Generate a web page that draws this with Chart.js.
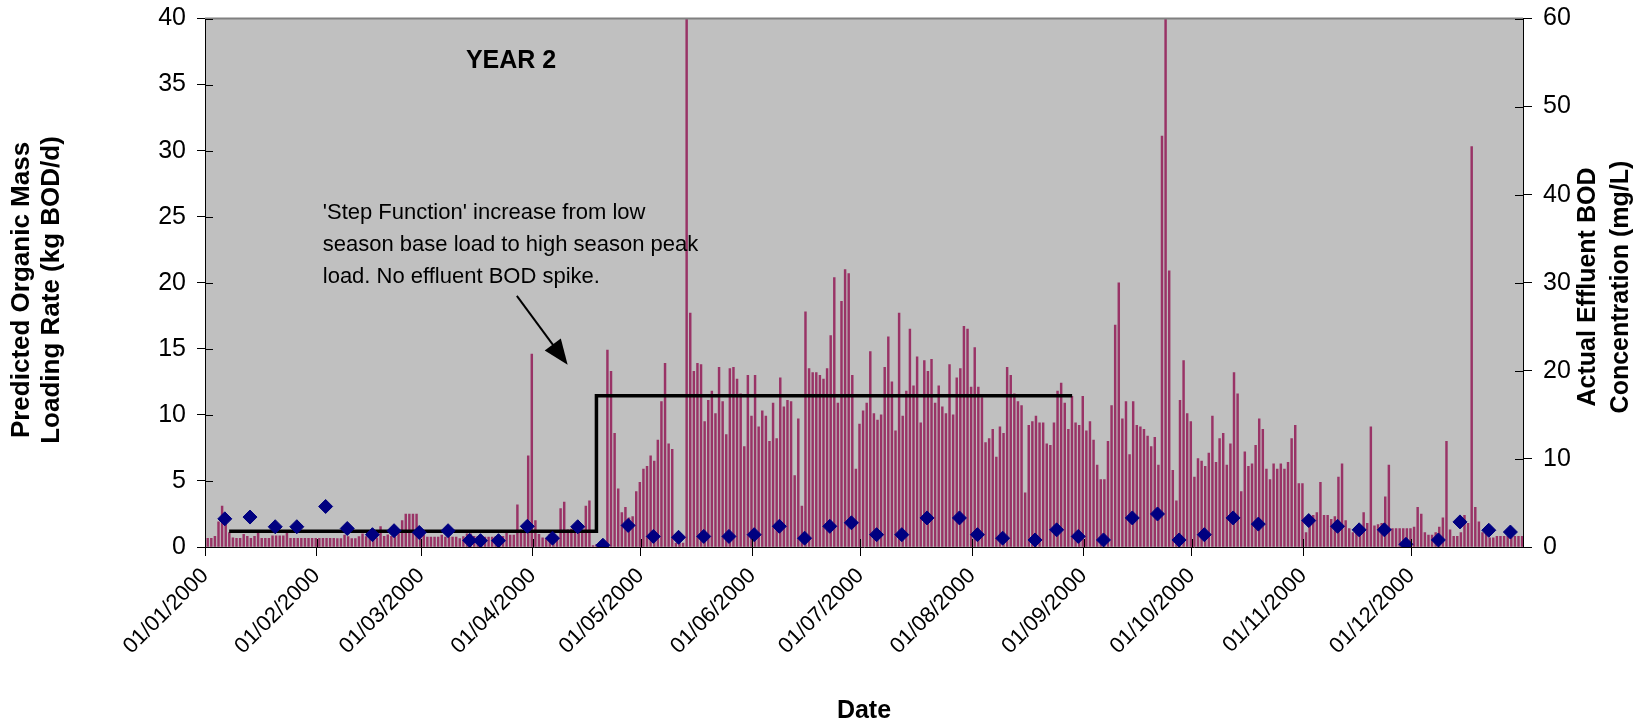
<!DOCTYPE html>
<html>
<head>
<meta charset="utf-8">
<script src="https://cdn.jsdelivr.net/npm/chart.js@4/dist/chart.umd.min.js"></script>
<style>
  html, body { margin: 0; padding: 0; background: #ffffff; }
  #wrap { width: 1651px; height: 727px; position: relative; }
</style>
</head>
<body>
<div id="wrap"><canvas id="chart" width="1651" height="727"></canvas></div>
<script>
// Month boundaries (day-of-year index) and their axis labels
const monthStartDays = [0, 31, 60, 91, 121, 152, 182, 213, 244, 274, 305, 335];
const monthLabels = ['01/01/2000', '01/02/2000', '01/03/2000', '01/04/2000', '01/05/2000', '01/06/2000',
                     '01/07/2000', '01/08/2000', '01/09/2000', '01/10/2000', '01/11/2000', '01/12/2000'];

// Predicted organic mass loading rate, kg BOD/d, one value per day of 2000
const loadingRate = [
  0.65,0.65,0.8,1.9,3.1,2.0,1.1,0.7,0.65,0.65,
  0.95,0.8,0.65,0.8,1.1,0.65,0.65,0.65,0.85,0.85,
  0.85,0.85,1.1,0.65,0.65,0.65,0.65,0.65,0.65,0.65,
  0.65,0.65,0.65,0.65,0.65,0.65,
  0.63,0.63,0.9,0.78,0.63,0.63,0.78,1.0,0.78,0.63,
  0.8,0.7,1.54,0.8,0.93,0.8,0.75,1.05,2.0,2.5,
  2.5,2.5,2.5,1.05,0.9,0.75,0.75,0.75,0.75,0.9,
  0.75,0.75,0.75,0.75,0.63,0.78,1.0,1.0,
  0.8,0.8,0.8,0.75,0.75,0.75,0.8,0.8,0.8,1.05,
  0.9,0.9,3.2,1.3,1.3,6.9,14.6,2.0,0.95,0.7,
  0.65,0.95,0.8,0.8,2.9,3.4,1.3,1.35,1.3,1.3,
  1.3,3.1,3.5,0.1,0.2,0.2,0.2,
  14.9,13.3,8.6,4.4,2.6,3.0,2.2,2.3,4.2,4.9,
  5.9,6.1,6.9,6.5,8.1,11.0,13.9,7.8,7.4,0.3,
  0.3,0.3,45,17.7,13.3,13.9,13.8,9.5,11.1,11.8,
  10.1,13.6,11.0,8.5,13.5,13.6,12.7,11.6,7.6,
  13.0,9.9,13.0,9.1,10.3,9.9,8.0,10.9,8.2,12.8,
  10.6,11.1,11.0,5.4,9.7,3.1,17.8,13.5,13.2,13.2,
  13.0,12.7,13.5,16.0,20.4,10.9,18.6,21.0,20.7,13.0,
  5.9,9.3,10.3,10.9,14.8,10.1,9.6,
  10.0,13.6,15.9,12.5,8.8,17.7,9.9,11.8,16.5,12.2,
  14.4,9.4,14.1,13.3,14.2,10.9,12.2,10.6,10.1,13.8,
  10.0,12.8,13.5,16.7,16.5,12.1,15.1,12.1,11.3,7.9,
  8.2,8.9,6.8,9.1,8.6,13.6,
  13.0,11.6,11.0,10.7,4.1,9.2,9.5,9.9,9.4,9.4,
  7.8,7.7,9.4,11.8,12.4,10.9,8.9,11.4,9.4,9.2,
  11.4,8.8,9.5,8.1,6.2,5.1,5.1,8.0,10.7,16.8,
  20.0,9.7,11.0,7.0,11.0,9.2,9.1,
  8.9,8.4,7.6,8.3,6.2,31.1,45,20.9,5.8,3.5,
  11.1,14.1,10.1,9.5,5.3,6.7,6.5,6.1,7.1,9.9,
  6.4,8.2,8.6,6.2,7.8,13.2,11.6,4.2,7.2,6.1,
  6.3,7.7,9.7,8.9,5.9,5.1,6.3,5.9,
  6.3,5.9,6.4,8.2,9.2,4.8,4.8,1.1,2.3,2.4,
  2.6,4.9,2.4,2.4,2.1,2.3,5.3,6.3,2.0,1.4,
  1.1,1.4,1.6,2.6,1.8,9.1,1.6,1.7,1.8,3.8,
  6.2,1.4,1.4,1.4,1.4,1.4,1.4,1.5,
  3.0,2.5,1.1,0.9,0.9,1.1,1.5,2.2,8.0,1.3,
  0.8,0.8,1.1,2.4,1.8,30.3,3.0,1.9,1.1,1.5,
  0.7,0.7,0.8,0.8,0.8,0.8,0.8,0.8,0.8,0.8
];

// Measured effluent BOD samples: day-of-year index and concentration, mg/L
const sampleDays = [5,12,19,25,33,39,46,52,59,67,73,76,81,89,96,103,110,117,124,131,
                    138,145,152,159,166,173,179,186,193,200,209,214,221,230,236,242,249,257,264,270,
                    277,285,292,306,314,320,327,333,342,348,356,362];
const effluentBOD = [3.2,3.4,2.3,2.3,4.6,2.1,1.4,1.85,1.65,1.85,0.75,0.72,0.72,2.35,1.0,2.3,0.2,2.45,1.2,1.1,
                     1.2,1.2,1.4,2.35,1.0,2.35,2.75,1.4,1.4,3.3,3.3,1.4,1.0,0.8,1.95,1.2,0.8,3.3,3.75,0.8,
                     1.4,3.3,2.6,3.0,2.35,1.95,1.95,0.3,0.8,2.85,1.9,1.7];

// Step function: low-season base load to high-season peak load
const stepDays  = [6.7, 108.7, 108.7, 240.8];
const stepLoads = [1.2, 1.2, 11.45, 11.45];

// One category per day, dd/mm/yyyy
const dayLabels = [];
for (let i = 0; i < loadingRate.length; i++) {
  const d = new Date(Date.UTC(2000, 0, 1 + i));
  const dd = String(d.getUTCDate()).padStart(2, '0');
  const mm = String(d.getUTCMonth() + 1).padStart(2, '0');
  dayLabels.push(dd + '/' + mm + '/' + d.getUTCFullYear());
}

const FONT = '"Liberation Sans", Arial, sans-serif';

// Grey plot area and its top border
const plotArea = {
  id: 'plotArea',
  beforeDraw(chart) {
    const { ctx, chartArea: a } = chart;
    ctx.save();
    ctx.fillStyle = '#c0c0c0';
    ctx.fillRect(a.left, a.top, a.right - a.left, a.bottom - a.top);
    ctx.restore();
  },
  afterDraw(chart) {
    const { ctx, chartArea: a } = chart;
    ctx.save();
    ctx.strokeStyle = '#808080';
    ctx.lineWidth = 2;
    ctx.beginPath();
    ctx.moveTo(a.left, a.top);
    ctx.lineTo(a.right, a.top);
    ctx.stroke();
    ctx.restore();
  }
};

// Tick marks that cross the axis line (inner half)
const crossTicks = {
  id: 'crossTicks',
  afterDraw(chart) {
    const { ctx, chartArea: a, scales } = chart;
    const len = 8;
    ctx.save();
    ctx.strokeStyle = '#000';
    ctx.lineWidth = 1;
    ctx.beginPath();
    scales.y.ticks.forEach(t => {
      const p = Math.round(scales.y.getPixelForValue(t.value)) + 0.5;
      ctx.moveTo(a.left, p); ctx.lineTo(a.left + len, p);
    });
    scales.y1.ticks.forEach(t => {
      const p = Math.round(scales.y1.getPixelForValue(t.value)) + 0.5;
      ctx.moveTo(a.right, p); ctx.lineTo(a.right - len, p);
    });
    scales.x2.ticks.forEach(t => {
      const p = Math.round(scales.x2.getPixelForValue(t.value)) + 0.5;
      ctx.moveTo(p, a.bottom); ctx.lineTo(p, a.bottom - len);
    });
    ctx.stroke();
    ctx.restore();
  }
};

// Titles, year label, note and arrow
const notes = {
  id: 'notes',
  afterDraw(chart) {
    const { ctx, scales: { x2, y } } = chart;
    ctx.save();
    ctx.fillStyle = '#000';

    // left axis title
    ctx.font = 'bold 26px ' + FONT;
    ctx.textAlign = 'center';
    ctx.textBaseline = 'alphabetic';
    ctx.save();
    ctx.translate(29, 290); ctx.rotate(-Math.PI / 2);
    ctx.fillText('Predicted Organic Mass', 0, 0);
    ctx.restore();
    ctx.save();
    ctx.translate(59, 290); ctx.rotate(-Math.PI / 2);
    ctx.fillText('Loading Rate (kg BOD/d)', 0, 0);
    ctx.restore();

    // right axis title
    ctx.font = 'bold 25px ' + FONT;
    ctx.save();
    ctx.translate(1595, 287); ctx.rotate(-Math.PI / 2);
    ctx.fillText('Actual Effluent BOD', 0, 0);
    ctx.restore();
    ctx.save();
    ctx.translate(1628, 287); ctx.rotate(-Math.PI / 2);
    ctx.fillText('Concentration (mg/L)', 0, 0);
    ctx.restore();

    // bottom axis title
    ctx.textBaseline = 'middle';
    ctx.fillText('Date', (chart.chartArea.left + chart.chartArea.right) / 2, 711);

    // year label
    ctx.fillText('YEAR 2', x2.getPixelForValue(85.0), y.getPixelForValue(36.8));

    // note text
    ctx.font = '22px ' + FONT;
    ctx.textAlign = 'left';
    const nx = x2.getPixelForValue(32.7);
    const ny = y.getPixelForValue(25.25);
    ['\'Step Function\' increase from low',
     'season base load to high season peak',
     'load. No effluent BOD spike.'].forEach((t, i) => ctx.fillText(t, nx, ny + i * 32));

    // arrow
    const ax = x2.getPixelForValue(86.6), ay = y.getPixelForValue(19.0);
    const bx = x2.getPixelForValue(100.7), by = y.getPixelForValue(13.8);
    const ang = Math.atan2(by - ay, bx - ax);
    const headL = 25, headW = 10;
    ctx.strokeStyle = '#000';
    ctx.lineWidth = 2;
    ctx.beginPath();
    ctx.moveTo(ax, ay);
    ctx.lineTo(bx - Math.cos(ang) * headL * 0.8, by - Math.sin(ang) * headL * 0.8);
    ctx.stroke();
    ctx.beginPath();
    ctx.moveTo(bx, by);
    ctx.lineTo(bx - Math.cos(ang) * headL - Math.sin(ang) * headW, by - Math.sin(ang) * headL + Math.cos(ang) * headW);
    ctx.lineTo(bx - Math.cos(ang) * headL + Math.sin(ang) * headW, by - Math.sin(ang) * headL - Math.cos(ang) * headW);
    ctx.closePath();
    ctx.fill();
    ctx.restore();
  }
};

// keeps the vertical axes from pushing the plot area down
const trimPadding = s => { s.paddingTop = 0; s.paddingBottom = 0; };

new Chart(document.getElementById('chart'), {
  data: {
    labels: dayLabels,
    datasets: [
      {
        type: 'scatter',
        label: 'Actual Effluent BOD',
        data: sampleDays.map((d, i) => ({ x: d + 0.5, y: effluentBOD[i] })),
        xAxisID: 'x2',
        yAxisID: 'y1',
        pointStyle: 'rectRot',
        pointRadius: 7,
        pointBackgroundColor: '#000080',
        pointBorderColor: '#000080',
        pointBorderWidth: 1,
        showLine: false,
        order: 1
      },
      {
        type: 'line',
        label: 'Step Function',
        data: stepDays.map((d, i) => ({ x: d, y: stepLoads[i] })),
        xAxisID: 'x2',
        yAxisID: 'y',
        borderColor: '#000000',
        borderWidth: 3.5,
        pointRadius: 0,
        fill: false,
        tension: 0,
        order: 2
      },
      {
        type: 'bar',
        label: 'Predicted Organic Mass Loading Rate',
        data: loadingRate,
        xAxisID: 'x',
        yAxisID: 'y',
        backgroundColor: '#993366',
        borderWidth: 0,
        barPercentage: 1.0,
        categoryPercentage: 1.0,
        order: 3
      }
    ]
  },
  options: {
    responsive: false,
    animation: false,
    devicePixelRatio: 1,
    events: [],
    layout: { padding: { top: 18.5, left: 0, right: 0, bottom: 0 } },
    plugins: { legend: { display: false }, tooltip: { enabled: false } },
    scales: {
      x: {
        type: 'category',
        display: false,
        offset: true,
        grid: { display: false }
      },
      x2: {
        type: 'linear',
        position: 'bottom',
        min: 0,
        max: 366,
        afterBuildTicks: s => { s.ticks = monthStartDays.map(v => ({ value: v })); },
        afterFit: s => { s.height = 180; },
        ticks: {
          autoSkip: false,
          minRotation: 45,
          maxRotation: 45,
          padding: 7,
          color: '#000',
          font: { family: FONT, size: 22 },
          callback: (v, i) => monthLabels[i]
        },
        grid: { drawOnChartArea: false, drawTicks: true, tickLength: 9, color: '#000' },
        border: { display: true, color: '#000', width: 1 }
      },
      y: {
        type: 'linear',
        position: 'left',
        min: 0,
        max: 40,
        afterFit: s => { s.width = 205; trimPadding(s); },
        ticks: { stepSize: 5, padding: 11, color: '#000', font: { family: FONT, size: 25 } },
        grid: { drawOnChartArea: false, drawTicks: true, tickLength: 8, color: '#000' },
        border: { display: true, color: '#000', width: 1 }
      },
      y1: {
        type: 'linear',
        position: 'right',
        min: 0,
        max: 60,
        afterFit: s => { s.width = 128; trimPadding(s); },
        ticks: { stepSize: 10, padding: 11, color: '#000', font: { family: FONT, size: 25 } },
        grid: { drawOnChartArea: false, drawTicks: true, tickLength: 9, color: '#000' },
        border: { display: true, color: '#000', width: 1 }
      }
    }
  },
  plugins: [plotArea, crossTicks, notes]
});
</script>
</body>
</html>
